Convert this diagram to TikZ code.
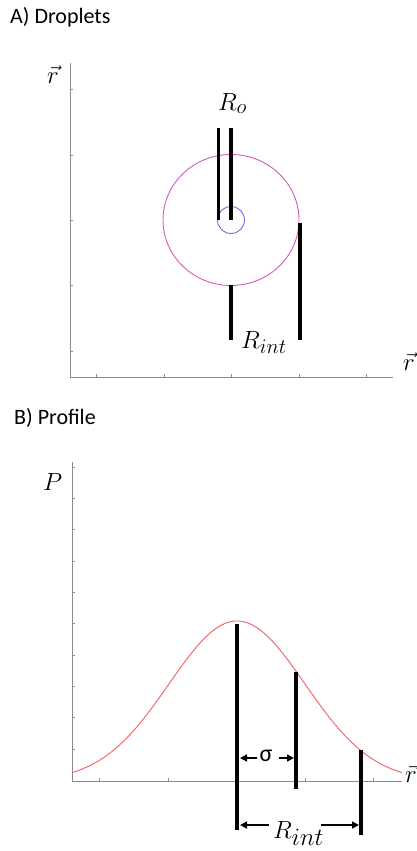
\documentclass[tikz,border=0pt]{standalone}
\usepackage{fontspec}
\setmainfont{Carlito}
\usetikzlibrary{arrows.meta,positioning,calc}
\definecolor{dropmag}{RGB}{210,90,190}
\definecolor{dropblue}{RGB}{110,110,220}
\definecolor{profred}{RGB}{240,95,95}
\definecolor{axgray}{RGB}{140,140,140}

\begin{document}
\begin{tikzpicture}[x=1pt, y=-1pt,
  axis/.style={draw=axgray, line width=0.9pt},
  tickmark/.style={draw=axgray, line width=0.6pt},
  bar/.style={line width=3.2pt},
  dimarrow/.style={line width=1.5pt, -{Triangle[length=7pt,width=7pt]}},
  ttl/.style={font=\fontsize{22}{22}\selectfont, anchor=base west, inner sep=0pt},
  lbl/.style={font=\fontsize{30}{30}\selectfont, anchor=base west, inner sep=0pt},
  vecl/.style={font=\fontsize{28}{28}\selectfont, anchor=base, inner sep=0pt}
]
  \useasboundingbox (0,0) rectangle (417,851);

  %% A) Droplets
  \node[ttl] (titleA) at (10,24) {A) Droplets};
  \draw[axis] (70,63) -- (70,377) -- (393,377);
  \foreach \y in {89,155,220,285,351} \draw[tickmark] (70,\y) -- ++(3,0);
  \foreach \x in {96,164,231,299,366} \draw[tickmark] (\x,377) -- ++(0,-3);
  \node[vecl] (rAy) at (53,83) {$\vec r$};
  \node[vecl] (rAx) at (409,370) {$\vec r$};

  \coordinate (cA) at (231,220);
  \draw[dropmag, line width=0.9pt] (cA) ellipse [x radius=68pt, y radius=65.5pt];
  \draw[dropblue, line width=0.9pt] (cA) circle [radius=13.5pt];

  \draw[bar] (218.7,128) -- (218.7,220);
  \draw[bar] (231,128) -- (cA);
  \draw[bar] (231,285) -- (231,340);
  \draw[bar] (300,223) -- (300,340);
  \node[lbl] (Ro) at (218,110) {$R_o$};
  \node[lbl] (RintA) at (241,348) {$R_{int}$};

  %% B) Profile
  \node[ttl] (titleB) at (14,424) {B) Profile};
  \draw[axis] (72,462) -- (72,781) -- (402,781);
  \foreach \k in {0,...,9} \draw[tickmark] (72,467+31.33*\k) -- ++(3,0);
  \foreach \x in {99,168,237,305,373} \draw[tickmark] (\x,781) -- ++(0,-3);
  \node[lbl, font=\fontsize{32}{32}\selectfont] (P) at (43,490) {$P$};
  \node[vecl] (rBx) at (411,782) {$\vec r$};

  \draw[profred, line width=0.9pt, domain=72:402, samples=120, smooth]
    plot ({\x},{781-160*exp(-0.5*((\x-237)/68)*((\x-237)/68))});

  \draw[bar] (237,624) -- (237,830);
  \draw[bar] (296,672) -- (296,789);
  \draw[bar] (361,750) -- (361,835);

  \node[font=\fontsize{24}{24}\selectfont, inner sep=2pt] (sigma) at (266,756) {σ};
  \coordinate (sigL) at (240,758);
  \coordinate (sigR) at (294,758);
  \draw[dimarrow] (sigma.west |- sigL) -- (sigL);
  \draw[dimarrow] ([xshift=4pt]sigma.east |- sigR) -- (sigR);

  \node[lbl, font=\fontsize{34}{34}\selectfont] (RintB) at (273,838) {$R_{int}$};
  \coordinate (rintL) at (240,825);
  \coordinate (rintR) at (359,825);
  \draw[dimarrow] ([xshift=-4pt]RintB.west |- rintL) -- (rintL);
  \draw[dimarrow] ([xshift=-3pt]RintB.east |- rintR) -- (rintR);
\end{tikzpicture}
\end{document}
